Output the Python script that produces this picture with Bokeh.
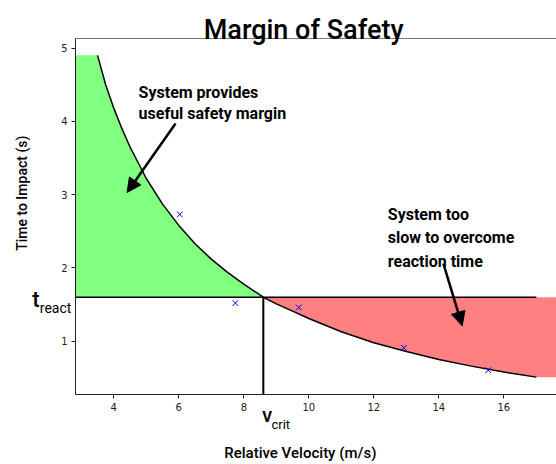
from bokeh.plotting import figure
from bokeh.models import Label, Arrow, NormalHead, LinearAxis, Range1d
from bokeh.embed import file_html
from bokeh.resources import INLINE

# curve: relative velocity (m/s) vs time to impact (s)
vel = [3.5, 3.75, 4.0, 4.25, 4.5, 5.0, 5.5, 6.0, 6.5, 7.0, 7.5, 8.0, 8.6,
       9.0, 9.5, 10.0, 11.0, 12.0, 13.0, 14.0, 15.0, 16.0, 17.0]
ttc = [4.90, 4.50, 4.18, 3.90, 3.65, 3.22, 2.87, 2.58, 2.33, 2.12, 1.94, 1.78, 1.60,
       1.51, 1.41, 1.31, 1.13, 0.98, 0.86, 0.75, 0.66, 0.58, 0.51]
# measured points
meas_v = [6.03, 7.74, 9.69, 12.92, 15.52]
meas_t = [2.73, 1.52, 1.46, 0.91, 0.605]
t_react = 1.6
v_crit = 8.6
t_top = 4.9
x_ticks = [4, 6, 8, 10, 12, 14, 16]
y_ticks = [1, 2, 3, 4, 5]

FONT = "Roboto"
FONT_MED = "'Roboto Medium', Roboto"

p = figure(width=556, height=464, x_range=Range1d(2.822, 17.62), y_range=Range1d(0.273, 5.13),
           output_backend="svg", toolbar_location=None,
           min_border_left=75, min_border_right=0, min_border_top=37, min_border_bottom=66)
p.outline_line_color = None
p.grid.visible = False

for ax, ticks in ((p.xaxis[0], x_ticks), (p.yaxis[0], y_ticks)):
    ax.ticker = ticks
    ax.major_tick_in = 0
    ax.major_tick_out = 4
    ax.minor_tick_line_color = None
    ax.major_label_text_font = "DejaVu Sans"
    ax.major_label_text_font_size = "10px"
    ax.major_label_text_color = "#222222"
    ax.axis_line_color = "#222222"
    ax.major_tick_line_color = "#222222"
    ax.major_label_standoff = 4

top = LinearAxis(major_tick_line_color=None, minor_tick_line_color=None,
                 major_label_text_font_size="0px", axis_line_color="#777777")
p.add_layout(top, "above")

idx = vel.index(v_crit)
gx = [2.0] + vel[:idx + 1] + [2.0]
gy = [t_top] + ttc[:idx + 1] + [t_react]
p.patch(gx, gy, fill_color="#80ff80", line_color=None)

rx = vel[idx:] + [18.5, 18.5]
ry = ttc[idx:] + [ttc[-1], t_react]
p.patch(rx, ry, fill_color="#ff8080", line_color=None)

p.line([2.0, 17.0], [t_react, t_react], line_color="black", line_width=1.5)
p.line([v_crit, v_crit], [0.0, t_react], line_color="black", line_width=2)
p.line(vel, ttc, line_color="black", line_width=1.5)
p.scatter(meas_v, meas_t, marker="x", size=8, line_color="blue", line_width=1)

def lab(x, y, text, size, bold=False, align="left", angle=0.0, place="center", font=FONT):
    l = Label(x=x, y=y, text=text, text_font=font, text_font_size=size,
              text_font_style="bold" if bold else "normal", text_align=align,
              text_baseline="alphabetic", text_color="black", angle=angle)
    if place == "center":
        p.add_layout(l)
    else:
        p.add_layout(l, place)

lab(9.84, 5.248, "Margin of Safety", "27px", align="center", place="above", font=FONT_MED)
lab(9.74, -0.525, "Relative Velocity (m/s)", "15px", align="center", place="below", font=FONT_MED)
lab(1.17, 3.02, "Time to Impact (s)", "14px", align="center", angle=1.5708, place="left", font=FONT_MED)

lab(4.763, 4.394, "System provides", "16px", bold=True)
lab(4.763, 4.106, "useful safety margin", "16px", bold=True)
lab(12.43, 2.732, "System too", "16px", bold=True)
lab(12.43, 2.409, "slow to overcome", "16px", bold=True)
lab(12.43, 2.086, "reaction time", "16px", bold=True)

lab(1.489, 1.569, "t", "22px", place="left", font=FONT_MED)
lab(1.723, 1.458, "react", "14px", place="left")
lab(8.566, -0.032, "V", "15px", bold=True, place="below")
lab(8.852, -0.131, "crit", "13px", place="below")

head = dict(size=14, fill_color="black", line_color="black")
p.add_layout(Arrow(end=NormalHead(**head), x_start=5.90, y_start=3.97, x_end=4.41, y_end=3.03,
                   line_width=2.5, line_color="black"))
p.add_layout(Arrow(end=NormalHead(**head), x_start=14.14, y_start=2.06, x_end=14.72, y_end=1.21,
                   line_width=2.5, line_color="black"))

open("out.html", "w").write(file_html(p, INLINE))
